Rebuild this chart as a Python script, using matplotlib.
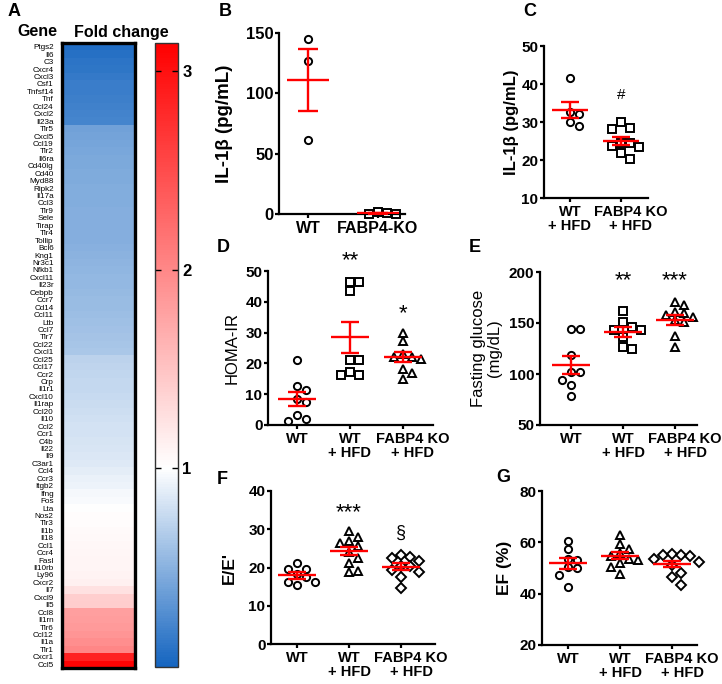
import numpy as np
import matplotlib
matplotlib.use("Agg")
import matplotlib.pyplot as plt
from matplotlib.colors import LinearSegmentedColormap
from matplotlib.transforms import ScaledTranslation

plt.rcParams['font.family'] = ['Liberation Sans', 'DejaVu Sans']
plt.rcParams['font.weight'] = 'bold'

# ---- panel A: fold change heatmap ----
genes = ["Ptgs2", "Il6", "C3", "Cxcr4", "Cxcl3", "Csf1", "Tnfsf14", "Tnf", "Ccl24", "Cxcl2",
         "Il23a", "Tlr5", "Cxcl5", "Ccl19", "Tlr2", "Il6ra", "Cd40lg", "Cd40", "Myd88", "Ripk2",
         "Il17a", "Ccl3", "Tlr9", "Sele", "Tirap", "Tlr4", "Tollip", "Bcl6", "Kng1", "Nr3c1",
         "Nfkb1", "Cxcl11", "Il23r", "Cebpb", "Ccr7", "Cd14", "Ccl11", "Ltb", "Ccl7", "Tlr7",
         "Ccl22", "Cxcl1", "Ccl25", "Ccl17", "Ccr2", "Crp", "Il1r1", "Cxcl10", "Il1rap", "Ccl20",
         "Il10", "Ccl2", "Ccr1", "C4b", "Il22", "Il9", "C3ar1", "Ccl4", "Ccr3", "Itgb2",
         "Ifng", "Fos", "Lta", "Nos2", "Tlr3", "Il1b", "Il18", "Ccl1", "Ccr4", "Fasl",
         "Il10rb", "Ly96", "Cxcr2", "Il7", "Cxcl9", "Il5", "Ccl8", "Il1rn", "Tlr6", "Ccl12",
         "Il1a", "Tlr1", "Cxcr1", "Ccl5"]
fold_change = [0.05, 0.08, 0.10, 0.12, 0.14, 0.16, 0.17, 0.18, 0.19, 0.20,
               0.21, 0.40, 0.41, 0.42, 0.44, 0.45, 0.45, 0.46, 0.46, 0.47,
               0.47, 0.47, 0.48, 0.48, 0.48, 0.49, 0.49, 0.50, 0.51, 0.52,
               0.53, 0.54, 0.55, 0.56, 0.57, 0.57, 0.58, 0.60, 0.61, 0.62,
               0.63, 0.64, 0.72, 0.73, 0.74, 0.75, 0.76, 0.77, 0.78, 0.79,
               0.80, 0.81, 0.82, 0.83, 0.84, 0.85, 0.87, 0.89, 0.91, 0.93,
               0.96, 0.98, 1.00, 1.02, 1.03, 1.04, 1.05, 1.06, 1.07, 1.08,
               1.09, 1.10, 1.12, 1.25, 1.40, 1.42, 1.80, 1.82, 1.85, 1.88,
               1.95, 2.00, 2.85, 3.10]
fc_min, fc_max = 0.0, 3.14

# ---- panel B ----
b_groups = ["WT", "FABP4-KO"]
b_wt = [145, 127, 61]
b_ko = [1.8, 0.5, 0.4, 0.3]
b_mean = [111, 0.8]
b_sem = [25.5, 0.4]

# ---- panel C ----
c_groups = ["WT\n+ HFD", "FABP4 KO\n+ HFD"]
c_wt = [41.6, 32.6, 32.1, 28.9, 30.0]
c_ko = [30.0, 28.2, 28.5, 23.7, 24.5, 23.4, 24.5, 21.8, 20.2]
c_mean = [33.2, 25.0]
c_sem = [2.1, 1.1]

groups3 = ["WT", "WT\n+ HFD", "FABP4 KO\n+ HFD"]

# ---- panel D: HOMA-IR ----
d_wt = [21.1, 8.4, 11.4, 12.7, 7.6, 3.2, 1.3, 2.0]
d_hfd = [46.3, 46.3, 43.6, 21.1, 21.1, 17.1, 16.2, 16.2]
d_ko = [29.8, 27.2, 23.0, 22.2, 22.0, 21.5, 18.2, 17.0, 15.0]
d_mean = [8.4, 28.5, 22.2]
d_sem = [2.2, 5.0, 1.6]

# ---- panel E: fasting glucose ----
e_wt = [144, 144, 118.6, 101.7, 101.7, 94.1, 89.2, 78.7]
e_hfd = [162, 150.7, 146.4, 143, 143, 136.6, 126.8, 124.2]
e_ko = [171, 168, 161, 160, 158, 156, 153, 151, 137, 126]
e_mean = [108.8, 141, 153]
e_sem = [8.6, 4.6, 4.8]

# ---- panel F: E/E' ----
f_wt = [21.3, 19.6, 19.6, 18.3, 17.5, 16.3, 16.3, 15.5]
f_hfd = [29.6, 28.1, 26.8, 26.3, 25.6, 24.0, 22.4, 21.1, 19.1, 18.7]
f_ko = [23.3, 22.7, 22.5, 21.7, 20.5, 20.3, 19.4, 18.9, 17.6, 14.6]
f_mean = [18.0, 24.3, 20.2]
f_sem = [0.9, 1.0, 0.9]

# ---- panel G: EF ----
g_wt = [60.5, 57.3, 53.5, 53.3, 50.2, 50.0, 47.3, 42.7]
g_hfd = [62.8, 59.5, 57.5, 55.8, 54.5, 53.5, 53.3, 52.0, 50.5, 47.7]
g_ko = [55.5, 55.0, 55.0, 54.5, 53.5, 52.5, 51.0, 48.2, 46.3, 43.3]
g_mean = [51.8, 54.8, 51.6]
g_sem = [2.1, 1.3, 1.3]

W, H = 722, 684
fig = plt.figure(figsize=(W / 100, H / 100), dpi=100)


def rect(l, t, r, b):
    return [l / W, 1 - b / H, (r - l) / W, (b - t) / H]


def swarm(ax, xc, vals, step=9, min_d=8):
    # spread points sideways so the markers don't overlap (pixel space)
    tr = ax.transData
    x0 = tr.transform((xc, 0))[0]
    placed = []
    xs = np.zeros(len(vals))
    for i in np.argsort(vals)[::-1]:
        yp = tr.transform((xc, vals[i]))[1]
        for k in [0, 1, -1, 2, -2, 3, -3, 4, -4]:
            xp = x0 + k * step
            if all((xp - a) ** 2 + (yp - b) ** 2 >= min_d ** 2 for a, b in placed):
                break
        placed.append((xp, yp))
        xs[i] = tr.inverted().transform((xp, yp))[0]
    return xs


def style(ax, labels, yticks, ylim, xlim, ysize=11, xsize=10.5, shift_last=True):
    ax.set_xlim(*xlim)
    ax.set_ylim(*ylim)
    ax.set_yticks(yticks)
    ax.set_xticks(range(1, len(labels) + 1))
    ax.set_xticklabels(labels, linespacing=1.05)
    for s in ["top", "right"]:
        ax.spines[s].set_visible(False)
    for s in ["left", "bottom"]:
        ax.spines[s].set_linewidth(1.6)
    ax.tick_params(axis="y", width=1.6, length=3, pad=1, labelsize=ysize)
    ax.tick_params(axis="x", width=1.6, length=3, pad=2, labelsize=xsize)
    if shift_last:
        # the long "FABP4 KO" label sits a bit right of its tick
        lab = ax.get_xticklabels()[-1]
        lab.set_transform(lab.get_transform() + ScaledTranslation(0.1, 0, fig.dpi_scale_trans))


def group(ax, xc, vals, marker, m, s, hw=0.36, cap=6.5):
    xs = swarm(ax, xc, vals)
    ax.plot(xs, vals, linestyle="none", marker=marker, ms=5.2 if marker != "D" else 4.6,
            mfc="none", mec="black", mew=1.4, clip_on=False, zorder=3)
    ax.hlines(m, xc - hw, xc + hw, color="red", lw=1.7, zorder=4)
    ax.errorbar(xc, m, yerr=s, fmt="none", ecolor="red", elinewidth=1.7,
                capsize=cap, capthick=1.7, zorder=4)


def ylab(ax, text, right_px, size=12, weight="bold", **kw):
    ax.set_ylabel(text, fontsize=size, fontweight=weight, **kw)
    bb = ax.get_position()
    l = bb.x0 * W
    w = bb.width * W
    ax.yaxis.set_label_coords((right_px - l) / w, 0.5)


# ---------------- A ----------------
cmap = LinearSegmentedColormap.from_list(
    "fc", [(0, "#1565c0"), (1 / fc_max, "white"), (1, "#ff0000")])
axA = fig.add_axes(rect(62, 43, 135, 668))
im = axA.imshow(np.array(fold_change)[:, None], aspect="auto", cmap=cmap,
                vmin=fc_min, vmax=fc_max, interpolation="nearest")
axA.set_xticks([])
axA.set_yticks(range(len(genes)))
axA.set_yticklabels(genes, fontsize=5.9, fontweight="normal")
axA.tick_params(axis="y", length=0, pad=6)
for s in axA.spines.values():
    s.set_linewidth(2.4)

axCb = fig.add_axes(rect(155, 43, 178, 667))
cb = fig.colorbar(im, cax=axCb, ticks=[1, 2, 3])
cb.outline.set_linewidth(1.0)
cb.outline.set_edgecolor("#333333")
axCb.tick_params(direction="in", left=True, right=True, length=4, width=1,
                 labelsize=12, pad=3)
axCb.set_yticklabels(["1", "2", "3"], fontweight="bold")

fig.text(8 / W, 1 - 12 / H, "A", fontsize=13, fontweight="bold", va="center")
fig.text(37 / W, 1 - 32 / H, "Gene", fontsize=11.5, fontweight="bold", ha="center", va="center")
fig.text(121 / W, 1 - 32 / H, "Fold change", fontsize=11.5, fontweight="bold", ha="center", va="center")

# ---------------- B ----------------
axB = fig.add_axes(rect(279, 33, 405, 214))
style(axB, b_groups, [0, 50, 100, 150], (0, 150), (0.586, 2.39), ysize=12, xsize=11.5,
      shift_last=False)
group(axB, 1, b_wt, "o", b_mean[0], b_sem[0], hw=0.3, cap=7.5)
group(axB, 2, b_ko, "s", b_mean[1], b_sem[1], hw=0.3, cap=7.5)
ylab(axB, "IL-1β (pg/mL)", 233, size=13.5)
fig.text(225 / W, 1 - 12 / H, "B", fontsize=13, fontweight="bold", va="center", ha="center")

# ---------------- C ----------------
axC = fig.add_axes(rect(544, 46, 648, 198))
style(axC, c_groups, [10, 20, 30, 40, 50], (10, 50), (0.49, 2.53))
group(axC, 1, c_wt, "o", c_mean[0], c_sem[0])
group(axC, 2, c_ko, "s", c_mean[1], c_sem[1])
ylab(axC, "IL-1β (pg/mL)", 519, size=12)
axC.text(2, 37.1, "#", fontsize=11, fontweight="normal", ha="center", va="center")
fig.text(530 / W, 1 - 12 / H, "C", fontsize=13, fontweight="bold", va="center", ha="center")

# ---------------- D ----------------
axD = fig.add_axes(rect(268, 271, 433, 425))
style(axD, groups3, range(0, 51, 10), (0, 50), (0.453, 3.57))
group(axD, 1, d_wt, "o", d_mean[0], d_sem[0])
group(axD, 2, d_hfd, "s", d_mean[1], d_sem[1])
group(axD, 3, d_ko, "^", d_mean[2], d_sem[2])
ylab(axD, "HOMA-IR", 240, size=12, weight="normal")
axD.text(2, 53.5, "**", fontsize=16, fontweight="normal", ha="center", va="center", clip_on=False)
axD.text(3, 36.3, "*", fontsize=16, fontweight="normal", ha="center", va="center")
fig.text(223 / W, 1 - 247 / H, "D", fontsize=13, fontweight="bold", va="center", ha="center")

# ---------------- E ----------------
axE = fig.add_axes(rect(540, 272, 697, 425))
style(axE, groups3, [50, 100, 150, 200], (50, 200), (0.404, 3.42))
group(axE, 1, e_wt, "o", e_mean[0], e_sem[0])
group(axE, 2, e_hfd, "s", e_mean[1], e_sem[1])
group(axE, 3, e_ko, "^", e_mean[2], e_sem[2])
ylab(axE, "Fasting glucose\n(mg/dL)", 502, size=12, weight="normal", linespacing=1.1)
axE.text(2, 191, "**", fontsize=16, fontweight="normal", ha="center", va="center")
axE.text(3, 191, "***", fontsize=16, fontweight="normal", ha="center", va="center")
fig.text(475 / W, 1 - 248 / H, "E", fontsize=13, fontweight="bold", va="center", ha="center")

# ---------------- F ----------------
axF = fig.add_axes(rect(271, 491, 435, 644))
style(axF, groups3, range(0, 41, 10), (0, 40), (0.5, 3.65))
group(axF, 1, f_wt, "o", f_mean[0], f_sem[0])
group(axF, 2, f_hfd, "^", f_mean[1], f_sem[1])
group(axF, 3, f_ko, "D", f_mean[2], f_sem[2])
ylab(axF, "E/E'", 237, size=12.5)
axF.text(2, 34.3, "***", fontsize=16, fontweight="normal", ha="center", va="center")
axF.text(3, 29, "§", fontsize=13, fontweight="normal", ha="center", va="center")
fig.text(222 / W, 1 - 479 / H, "F", fontsize=13, fontweight="bold", va="center", ha="center")

# ---------------- G ----------------
axG = fig.add_axes(rect(542, 491, 697, 645))
style(axG, groups3, [20, 40, 60, 80], (20, 80), (0.5, 3.48))
group(axG, 1, g_wt, "o", g_mean[0], g_sem[0])
group(axG, 2, g_hfd, "^", g_mean[1], g_sem[1])
group(axG, 3, g_ko, "D", g_mean[2], g_sem[2])
ylab(axG, "EF (%)", 512, size=12.5)
fig.text(503 / W, 1 - 478 / H, "G", fontsize=13, fontweight="bold", va="center", ha="center")

fig.savefig("out.png", dpi=100)
